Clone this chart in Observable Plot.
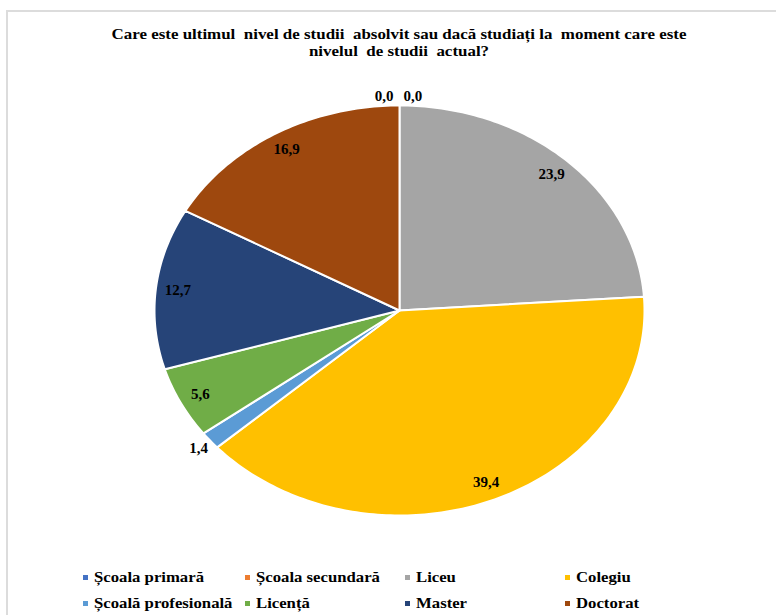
<!DOCTYPE html>
<html>
<head>
<meta charset="utf-8">
<script src="https://cdn.jsdelivr.net/npm/d3@7"></script>
<script src="https://cdn.jsdelivr.net/npm/@observablehq/plot@0.6"></script>
<style>
  html, body { margin: 0; padding: 0; background: #fff; }
  body { width: 776px; height: 615px; position: relative; overflow: hidden; }
  #frame { position: absolute; left: 6px; top: 10px; width: 776px; height: 610px;
           border-top: 2px solid #dcdcdc; border-left: 2px solid #dcdcdc; box-sizing: border-box; }
  #title { position: absolute; top: 26px; left: 399px; text-align: center; font-weight: bold;
           font-size: 15px; line-height: 17px; white-space: pre; color: #000; }
  #chart { position: absolute; left: 0; top: 0; }
  #legend { position: absolute; left: 83px; top: 564px; display: grid;
            grid-template-columns: 162px 160px 160px 160px; grid-auto-rows: 26px;
            font-weight: bold; font-size: 15px; color: #000; }
  .item { display: flex; align-items: center; white-space: nowrap; }
  .sw { width: 5px; height: 5px; margin-right: 6px; flex: none; }
  .lt { display: inline-block; transform-origin: 0 50%; }
</style>
</head>
<body>
<div id="frame"></div>
<div id="title"></div>
<div id="chart"></div>
<div id="legend"></div>
<script>
// ---- data ----
const titleLines = ["Care este ultimul  nivel de studii  absolvit sau dacă studiați la  moment care este", "nivelul  de studii  actual?"];
const categories = ["Școala primară", "Școala secundară", "Liceu", "Colegiu", "Școală profesională", "Licență", "Master", "Doctorat"];
const values = [0.0, 0.0, 23.9, 39.4, 1.4, 5.6, 12.7, 16.9];
const colors = ["#4472C4", "#ED7D31", "#A5A5A5", "#FFC000", "#5B9BD5", "#70AD47", "#264478", "#9E480E"];

const font = '"Liberation Serif", serif';

// ---- derived ----
const rows = categories.map((name, i) => ({name, value: values[i], index: i}));
const arcs = d3.pie().sort(null).value(d => d.value).startAngle(0).endAngle(2 * Math.PI)(rows);

const slicePoints = [];
for (const a of arcs) {
  if (a.data.value <= 0) continue;
  const span = a.endAngle - a.startAngle;
  const steps = Math.max(2, Math.ceil(span / (2 * Math.PI) * 360));
  slicePoints.push({name: a.data.name, x: 0, y: 0});
  for (let k = 0; k <= steps; k++) {
    const t = a.startAngle + span * k / steps;
    slicePoints.push({name: a.data.name, x: Math.sin(t), y: Math.cos(t)});
  }
  slicePoints.push({name: a.data.name, x: 0, y: 0});
}

const fmt = v => v.toFixed(1).replace(".", ",");
const labels = arcs.map(a => {
  const mid = (a.startAngle + a.endAngle) / 2;
  const r = a.data.value === 0 ? 1.045 : a.data.value < 2 ? 1.06 : 0.91;
  return {name: a.data.name, index: a.data.index, zero: a.data.value === 0,
          x: r * Math.sin(mid), y: r * Math.cos(mid), text: fmt(a.data.value)};
});
const zeroLabels = labels.filter(d => d.zero);

const textOpts = {x: "x", y: "y", text: "text", fontWeight: "bold", fontSize: 15, fontFamily: font, fill: "#000"};

const plot = Plot.plot({
  width: 776,
  height: 560,
  margin: 0,
  style: {background: "transparent", fontFamily: font},
  x: {domain: [-1, 1], range: [154, 644], axis: null},
  y: {domain: [-1, 1], range: [515, 105], axis: null},
  color: {domain: categories, range: colors},
  marks: [
    Plot.line(slicePoints, {x: "x", y: "y", z: "name", fill: "name", stroke: "white",
      strokeWidth: 2, strokeLinejoin: "round", curve: "linear"}),
    Plot.text(labels.filter(d => !d.zero), textOpts),
    Plot.text(zeroLabels.slice(0, 1), {...textOpts, textAnchor: "start", dx: 4}),
    Plot.text(zeroLabels.slice(1), {...textOpts, textAnchor: "end", dx: -6})
  ]
});
document.getElementById("chart").appendChild(plot);

const title = document.getElementById("title");
title.style.fontFamily = font;
title.textContent = titleLines.join("\n");
// the reference is horizontally stretched; match its title width (~575px)
const tw = title.getBoundingClientRect().width;
const tk = 575 / tw;
title.style.transform = `translateX(-50%) scaleX(${tk})`;

const legend = document.getElementById("legend");
legend.style.fontFamily = font;
const spans = [];
categories.forEach((name, i) => {
  const item = document.createElement("div");
  item.className = "item";
  const sw = document.createElement("span");
  sw.className = "sw";
  sw.style.background = colors[i];
  const tx = document.createElement("span");
  tx.className = "lt";
  tx.textContent = name;
  item.appendChild(sw);
  item.appendChild(tx);
  legend.appendChild(item);
  spans.push(tx);
});
const lk = 110 / spans[0].getBoundingClientRect().width;
spans.forEach(s => s.style.transform = `scaleX(${lk})`);
</script>
</body>
</html>
